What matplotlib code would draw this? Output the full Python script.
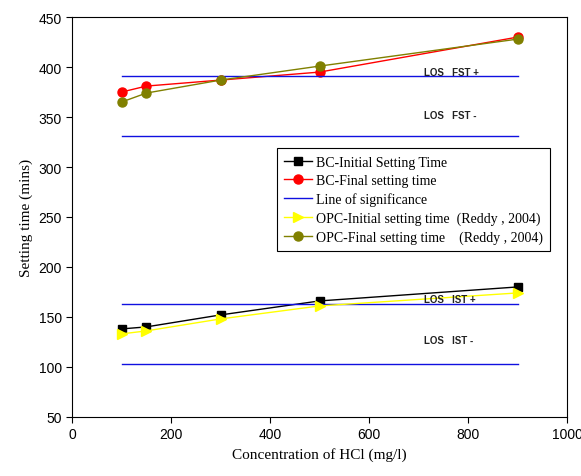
import matplotlib.pyplot as plt

# Data
conc = [100, 150, 300, 500, 900]
bc_initial = [138, 140, 152, 166, 180]
bc_final = [375, 381, 387, 395, 430]
opc_initial = [133, 136, 148, 161, 174]
opc_final = [365, 374, 387, 401, 428]

# Lines of significance
los_x = [100, 900]
los_levels = [391, 331, 163, 103]
los_labels = ['LOS   FST +', 'LOS   FST -', 'LOS   IST +', 'LOS   IST -']
los_label_y = [395, 352, 168, 127]

fig = plt.figure(figsize=(5.81, 4.77), dpi=100)
ax = fig.add_axes([0.124, 0.124, 0.852, 0.838])

ax.plot(conc, bc_initial, color='black', marker='s', markersize=6, lw=1,
        label='BC-Initial Setting Time')
ax.plot(conc, bc_final, color='red', marker='o', markersize=6.5, lw=1,
        label='BC-Final setting time')
for i, lvl in enumerate(los_levels):
    ax.plot(los_x, [lvl, lvl], color='#1010e0', lw=1,
            label='Line of significance' if i == 0 else None)
ax.plot(conc, opc_initial, color='yellow', marker='>', markersize=7, lw=1,
        label='OPC-Initial setting time  (Reddy , 2004)')
ax.plot(conc, opc_final, color='olive', marker='o', markersize=6.5, lw=1,
        label='OPC-Final setting time    (Reddy , 2004)')

for txt, y in zip(los_labels, los_label_y):
    ax.text(710, y, txt, fontsize=7, fontweight='bold', color='#222222',
            family='Liberation Sans', va='center', ha='left')

ax.set_xlim(0, 1000)
ax.set_ylim(50, 450)
ax.set_xticks(range(0, 1001, 200))
ax.set_yticks(range(50, 451, 50))
ax.tick_params(labelsize=10, direction='out', length=4)
for lab in ax.get_xticklabels() + ax.get_yticklabels():
    lab.set_family('Liberation Sans')

ax.set_xlabel('Concentration of HCl (mg/l)', family='Liberation Serif', fontsize=11)
ax.set_ylabel('Setting time (mins)', family='Liberation Serif', fontsize=11)

leg = ax.legend(loc='upper right', bbox_to_anchor=(0.966, 0.672),
                prop={'family': 'Liberation Serif', 'size': 10},
                fancybox=False, edgecolor='black', framealpha=1,
                handlelength=2.0, handletextpad=0.25, borderpad=0.55,
                labelspacing=0.38, borderaxespad=0)
leg.get_frame().set_linewidth(0.8)

fig.savefig('out.png', dpi=100)
